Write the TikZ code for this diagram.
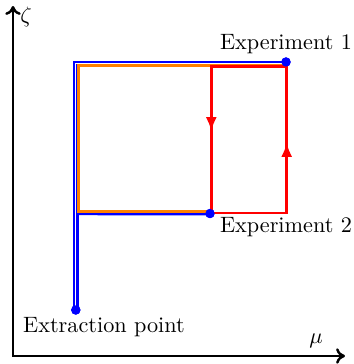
\documentclass[tikz,border=0pt]{standalone}
\usetikzlibrary{arrows.meta}
\begin{document}
\begin{tikzpicture}[x=0.45pt,y=-0.45pt,
  dot/.style={circle,fill=blue,inner sep=0pt,minimum size=4.2pt},
  axis/.style={line width=1.1pt,{To[length=4pt,width=7pt]}-{To[length=4pt,width=7pt]}},
  bluepath/.style={draw=blue,line width=1.2pt,double=white,double distance=0.55pt},
  bluesolid/.style={draw=blue,line width=1.8pt},
  orangepath/.style={draw={rgb,255:red,255;green,128;blue,0},line width=1.05pt},
  redpath/.style={draw=red,line width=1.3pt},
  redarrow/.style={red,line width=1.3pt,-{Latex[length=6.5pt,width=5pt]}},
  lbl/.style={inner sep=0pt}]
\useasboundingbox (0,0) rectangle (354,364);
% axes
\coordinate (ytop) at (13,6);
\coordinate (O) at (13,356);
\coordinate (xend) at (345,356);
\draw[axis] (ytop) -- (O) -- (xend);
\node[lbl] (zeta) at (26,17) {$\zeta$};
\node[lbl] (mu) at (316,341) {$\mu$};
% key points
\node[dot] (e1) at (286,62) {};
\node[dot] (e2) at (210,213.5) {};
\node[dot] (ext) at (75.8,310) {};
\coordinate (tl) at (75.8,63.8);
\coordinate (bl) at (78,213.2);
\coordinate (e1l) at (286,63.8);
% blue paths
\draw[bluesolid] (bl) -- (e2.center);
\draw[bluepath] (ext.center) -- (tl) -- (e1l);
% orange path
\draw[orangepath] (210,211.6) -- (78.4,211.6) -- (78.4,65.5) -- (286,65.5);
% red loop
\coordinate (r1) at (211.3,66.6);
\coordinate (r2) at (211.3,213);
\coordinate (r3) at (286.7,213);
\coordinate (r4) at (286.7,66.6);
\draw[redpath] (r1) -- (r2) -- (r3) -- (r4) -- cycle;
\draw[redarrow] (211.3,110) -- (211.3,131.5);
\draw[redarrow] (286.7,162) -- (286.7,142.5);
\node[dot] at (e1) {};
\node[dot] at (e2) {};
\node[dot] at (ext) {};
% labels
\node[lbl] (l1) at (286,44) {Experiment 1};
\node[lbl] (l2) at (286,227) {Experiment 2};
\node[lbl] (l3) at (104,327) {Extraction point};
\end{tikzpicture}
\end{document}
